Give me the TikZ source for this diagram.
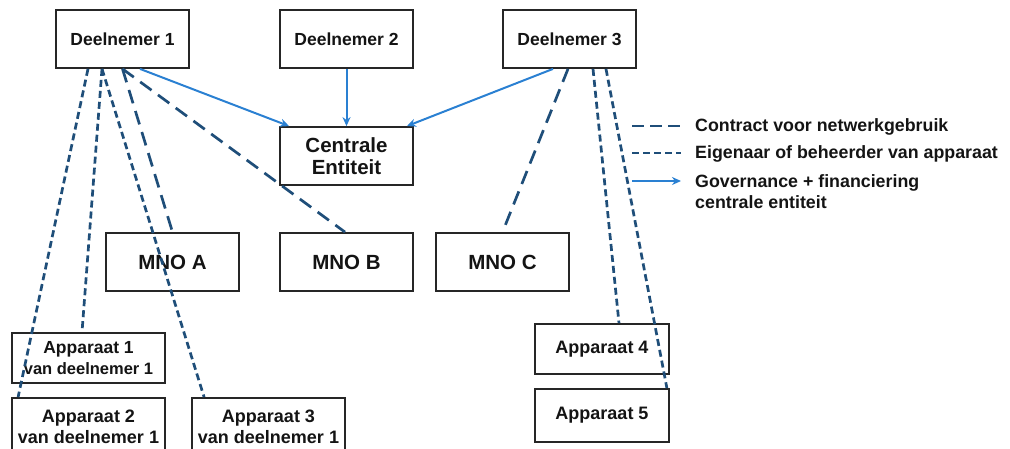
\documentclass[tikz,border=0pt]{standalone}
\usepackage{fontspec}
\setmainfont{Liberation Sans}
\usetikzlibrary{arrows.meta,calc}
\definecolor{navy}{HTML}{1F4E79}
\definecolor{govblue}{HTML}{2A80D2}
\begin{document}
\begin{tikzpicture}[x=1pt,y=-1pt,
  box/.style={draw=black!85,line width=1.8pt,fill=white,inner sep=0pt,align=center,text=black!92,font=\bfseries},
  dbox/.style={box,minimum width=133pt,minimum height=58pt,font=\bfseries\fontsize{17.5}{19}\selectfont},
  mbox/.style={box,minimum width=133pt,minimum height=58pt,font=\bfseries\fontsize{20.5}{23}\selectfont},
  abox/.style={box,font=\bfseries\fontsize{18}{21}\selectfont},
  contract/.style={navy,line width=2.7pt,dash pattern=on 14pt off 8pt},
  owner/.style={navy,line width=2.7pt,dash pattern=on 7pt off 4pt},
  gov/.style={govblue,line width=2pt,-{Stealth[length=9pt,width=8pt]}},
  legtext/.style={anchor=west,inner sep=0pt,align=left,text=black!92,font=\bfseries\fontsize{17.8}{21}\selectfont}]
\useasboundingbox (0,0) rectangle (1010,448);
\clip (0,0) rectangle (1010,448);

% participants and central entity
\node[dbox] (d1) at (122.5,39) {Deelnemer 1};
\node[dbox] (d2) at (346.5,39) {Deelnemer 2};
\node[dbox] (d3) at (569.5,39) {Deelnemer 3};
\node[mbox] (ce) at (346.5,156) {Centrale\\[-1pt]Entiteit};

% mobile network operators
\node[mbox] (mnoa) at (172.5,262) {MNO A};
\node[mbox] (mnob) at (346.5,262) {MNO B};
\node[mbox] (mnoc) at (502.5,262) {MNO C};

% devices
\node[abox,minimum width=153pt,minimum height=50pt] (a1) at (88.5,358) {\fontsize{17.5}{20}\selectfont Apparaat 1\\\fontsize{16.5}{19}\selectfont van deelnemer 1};
\node[abox,minimum width=153pt,minimum height=58pt] (a2) at (88.5,427) {Apparaat 2\\van deelnemer 1};
\node[abox,minimum width=153pt,minimum height=58pt] (a3) at (268.5,427) {Apparaat 3\\van deelnemer 1};
\node[abox,minimum width=134pt,minimum height=50pt] (a4) at (602,349) {Apparaat 4};
\node[abox,minimum width=134pt,minimum height=53pt] (a5) at (602,415.5) {Apparaat 5};

% governance and financing
\draw[gov] ([xshift=17.5pt]d1.south) -- ([xshift=10pt]ce.north west);
\draw[gov] (d2.south) -- (ce.north);
\draw[gov] ([xshift=-16.5pt]d3.south) -- ([xshift=-7pt]ce.north east);

% network usage contracts
\draw[contract] (d1.south) -- (mnoa.north);
\draw[contract] (d1.south) -- ([xshift=-1.5pt]mnob.north);
\draw[contract] ([xshift=-1.5pt]d3.south) -- (mnoc.north);

% owner or manager of device
\draw[owner] ([xshift=-34.5pt]d1.south) -- ([xshift=7pt]a2.north west);
\draw[owner] ([xshift=-20.5pt]d1.south) -- ([xshift=-6.5pt]a1.north);
\draw[owner] ([xshift=-20.5pt]d1.south) -- ([xshift=13pt]a3.north west);
\draw[owner] ([xshift=23.5pt]d3.south) -- ([xshift=17pt]a4.north);
\draw[owner] ([xshift=36.5pt]d3.south) -- ([xshift=-3pt]a5.north east);

% legend
\coordinate (l1a) at (632,126); \coordinate (l1b) at (681,126);
\coordinate (l2a) at (632,153); \coordinate (l2b) at (681,153);
\coordinate (l3a) at (632,181); \coordinate (l3b) at (681,181);
\draw[contract,dash pattern=on 12pt off 6pt] (l1a) -- (l1b);
\draw[owner] (l2a) -- (l2b);
\draw[gov,line width=1.6pt] (l3a) -- (l3b);
\node[legtext] (t1) at (695,127) {Contract voor netwerkgebruik};
\node[legtext] (t2) at (695,154) {Eigenaar of beheerder van apparaat};
\node[legtext,anchor=north west] (t3) at (695,174) {Governance + financiering\\centrale entiteit};
\end{tikzpicture}
\end{document}
